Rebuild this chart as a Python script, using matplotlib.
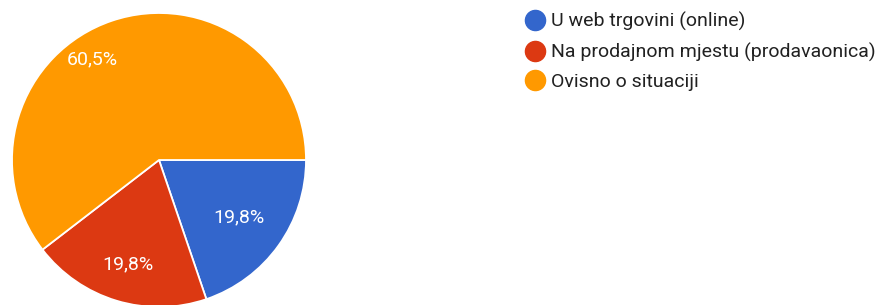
import numpy as np
import matplotlib
matplotlib.use("Agg")
import matplotlib.pyplot as plt
from matplotlib.lines import Line2D

plt.rcParams['font.family'] = ['Roboto', 'DejaVu Sans']

labels = ["U web trgovini (online)", "Na prodajnom mjestu (prodavaonica)", "Ovisno o situaciji"]
values = [19.8, 19.8, 60.5]
pct_labels = ["19,8%", "19,8%", "60,5%"]
colors = ["#3366cc", "#dc3912", "#ff9900"]

W, H = 878, 305
fig = plt.figure(figsize=(W / 100, H / 100), dpi=100)

# pie axes placed in pixel units: centre (159,160), radius 147
cx, cy, r = 159, 160, 147
ax = fig.add_axes([(cx - r) / W, (H - cy - r) / H, 2 * r / W, 2 * r / H])
wedges, _ = ax.pie(values, colors=colors, startangle=0, counterclock=False,
                   radius=1, wedgeprops=dict(edgecolor="white", linewidth=1.3))
ax.set_xlim(-1, 1)
ax.set_ylim(-1, 1)
ax.set_aspect("equal")
ax.axis("off")

# label placement (radius fraction, extra angle in degrees) per slice
label_r = [0.67, 0.74, 0.82]
label_shift = [0, 0, 15]
for w, txt, lr, sh in zip(wedges, pct_labels, label_r, label_shift):
    mid = np.deg2rad((w.theta1 + w.theta2) / 2 + sh)
    ax.text(lr * np.cos(mid), lr * np.sin(mid), txt, color="white",
            fontsize=14, ha="center", va="center")

handles = [Line2D([], [], marker="o", linestyle="", markersize=14.5,
                  markerfacecolor=c, markeredgecolor=c) for c in colors]
fig.legend(handles, labels, loc="upper left", bbox_to_anchor=(525 / W, 1 - 12 / H),
           frameon=False, fontsize=14, handlelength=1.0, handletextpad=0.35,
           labelspacing=0.58, borderpad=0, borderaxespad=0, labelcolor="#212121")

fig.savefig("out.png", dpi=100, facecolor="white")
